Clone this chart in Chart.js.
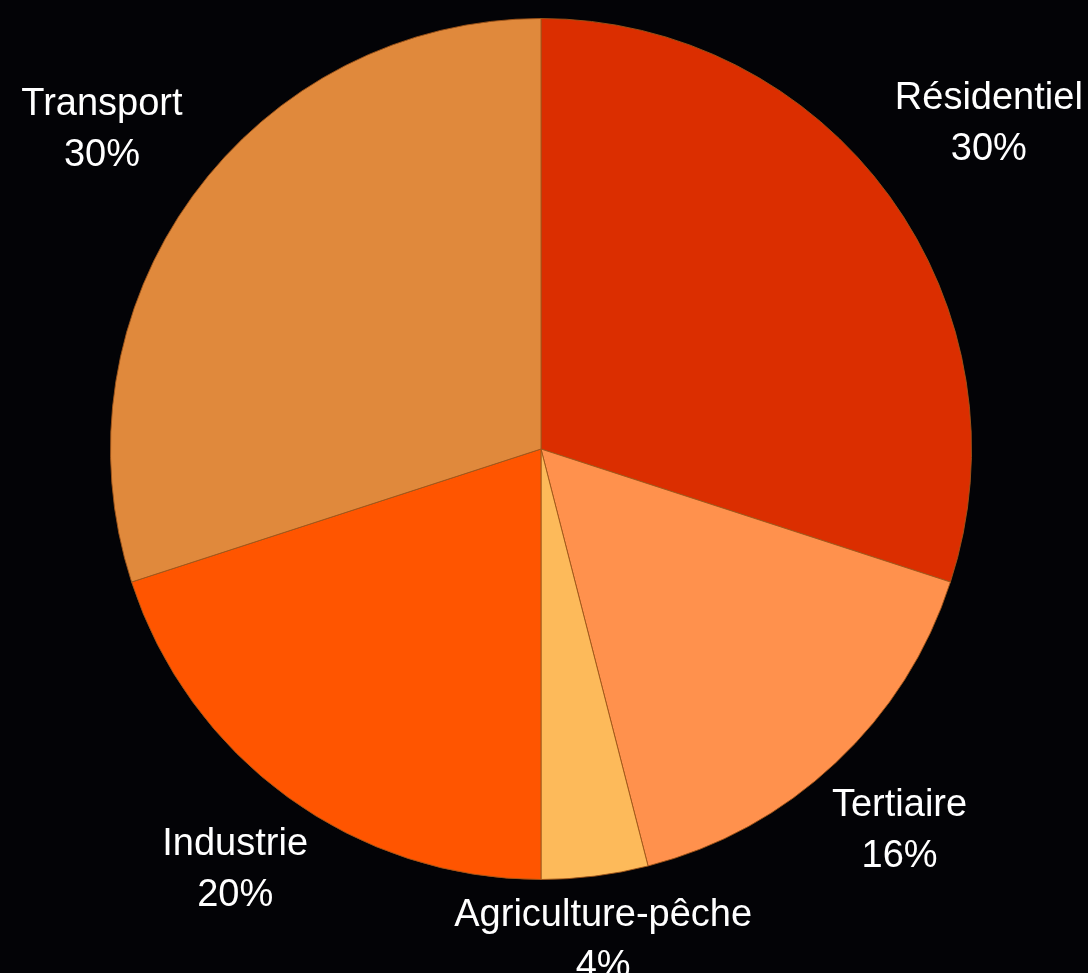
<!DOCTYPE html>
<html>
<head>
<meta charset="utf-8">
<script src="https://cdn.jsdelivr.net/npm/chart.js@4.4.1/dist/chart.umd.min.js"></script>
<style>
    html, body { margin: 0; padding: 0; background: #030306; }
    #wrap { width: 1088px; height: 973px; }
</style>
</head>
<body>
<div id="wrap"><canvas id="pieChart" width="1088" height="973"></canvas></div>
<script>
const categories = ['Résidentiel', 'Tertiaire', 'Agriculture-pêche', 'Industrie', 'Transport'];
const shares = [30, 16, 4, 20, 30];
const sliceColors = ['#DB2E00', '#FF914D', '#FDBA5A', '#FF5500', '#E0893C'];

// labels sit outside the pie, pushed out along the mid angle
const outsideLabels = {
    id: 'outsideLabels',
    afterDatasetsDraw(chart) {
        const ctx = chart.ctx;
        const meta = chart.getDatasetMeta(0);
        const lineH = 51;
        ctx.save();
        ctx.font = '38px "Liberation Sans", Arial, sans-serif';
        ctx.fillStyle = '#ffffff';
        ctx.textAlign = 'center';
        ctx.textBaseline = 'middle';
        meta.data.forEach((arc, i) => {
            const { x, y, startAngle, endAngle, outerRadius } = arc.getProps(['x', 'y', 'startAngle', 'endAngle', 'outerRadius'], true);
            const mid = (startAngle + endAngle) / 2;
            const cos = Math.cos(mid), sin = Math.sin(mid);
            const lines = [categories[i], shares[i] + '%'];
            const w = Math.max(...lines.map(l => ctx.measureText(l).width));
            const dist = outerRadius + 47 + Math.abs(cos) * w / 2;
            const cx = x + dist * cos;
            const cy = y + dist * sin;
            lines.forEach((l, k) => {
                ctx.fillText(l, cx, cy + (k - (lines.length - 1) / 2) * lineH);
            });
        });
        ctx.restore();
    }
};

new Chart(document.getElementById('pieChart'), {
    type: 'pie',
    data: {
        labels: categories,
        datasets: [{
            data: shares,
            backgroundColor: sliceColors,
            borderColor: 'rgba(160, 85, 25, 0.9)',
            borderWidth: 1
        }]
    },
    options: {
        responsive: false,
        animation: false,
        layout: { padding: { left: 110, right: 116, top: 18, bottom: 93 } },
        plugins: {
            legend: { display: false },
            tooltip: { enabled: false }
        }
    },
    plugins: [outsideLabels]
});
</script>
</body>
</html>
